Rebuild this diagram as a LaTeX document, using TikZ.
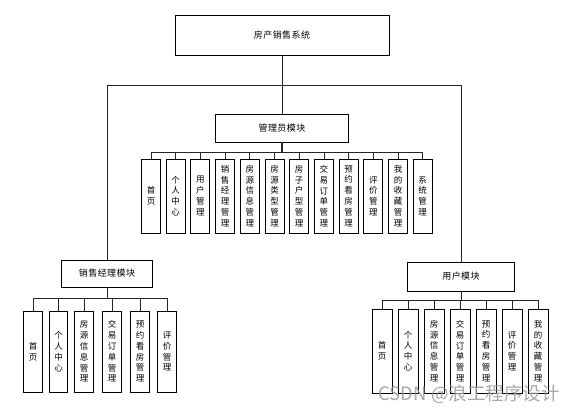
\documentclass[tikz,border=0pt]{standalone}
\usepackage{fontspec}
\newfontfamily\cjk[LetterSpace=5]{Noto Sans CJK SC}
\newfontfamily\cjkv{Noto Sans CJK SC}
\usetikzlibrary{calc}
\tikzset{
  box/.style={draw=black, line width=0.9pt, fill=white, inner sep=0pt, font=\cjk\fontsize{9}{11}\selectfont},
  vbox/.style={draw=black, line width=0.9pt, fill=white, inner sep=0pt, align=center,
     font=\cjkv\fontsize{8.5}{10.8}\selectfont},
  conn/.style={draw=black!85, line width=0.8pt},
}
\begin{document}
\begin{tikzpicture}[x=1pt,y=-1pt]
\useasboundingbox (0,0) rectangle (582,413);
% top
\node[box, minimum width=214pt, minimum height=40pt] (sys) at (282,35) {房产销售系统};
\node[box, minimum width=133pt, minimum height=28pt] (admin) at (282,128) {管理员模块};
\node[box, minimum width=91pt, minimum height=27pt] (sales) at (107,273.5) {销售经理模块};
\node[box, minimum width=107pt, minimum height=29pt] (user) at (461,276.5) {用户模块};
\coordinate (tbus) at (282,85);
\draw[conn] (sys.south) -- (tbus);
\draw[conn] (tbus) -- (admin.north);
\draw[conn] (tbus) -| (sales.north);
\draw[conn] (tbus) -| (user.north);
% admin children
\coordinate (abus) at (282,152);
\draw[conn, line width=1.3pt] (admin.south) -- (abus);
\foreach \i/\t in {0/{首\\页},1/{个\\人\\中\\心},2/{用\\户\\管\\理},3/{销\\售\\经\\理\\管\\理},
  4/{房\\源\\信\\息\\管\\理},5/{房\\源\\类\\型\\管\\理},6/{房\\子\\户\\型\\管\\理},7/{交\\易\\订\\单\\管\\理},
  8/{预\\约\\看\\房\\管\\理},9/{评\\价\\管\\理},10/{我\\的\\收\\藏\\管\\理},11/{系\\统\\管\\理}}{
  \node[vbox, minimum width=19pt, minimum height=74pt] (a\i) at ({151+24.7*\i},196) {\t};
  \draw[conn] (abus) -| (a\i.north);
}
% sales children
\coordinate (sbus) at (107,298);
\draw[conn] (sales.south) -- (sbus);
\foreach \i/\x/\t in {0/33/{首\\页},1/58.5/{个\\人\\中\\心},2/84/{房\\源\\信\\息\\管\\理},
  3/112/{交\\易\\订\\单\\管\\理},4/140/{预\\约\\看\\房\\管\\理},5/167/{评\\价\\管\\理}}{
  \node[vbox, minimum width=18.5pt, minimum height=81pt] (s\i) at (\x,351.5) {\t};
  \draw[conn] (sbus) -| (s\i.north);
}
% user children
\coordinate (ubus) at (461,300);
\draw[conn] (user.south) -- (ubus);
\foreach \i/\t in {0/{首\\页},1/{个\\人\\中\\心},2/{房\\源\\信\\息\\管\\理},
  3/{交\\易\\订\\单\\管\\理},4/{预\\约\\看\\房\\管\\理},5/{评\\价\\管\\理},6/{我\\的\\收\\藏\\管\\理}}{
  \node[vbox, minimum width=20pt, minimum height=84pt] (u\i) at ({382+26*\i},351) {\t};
  \draw[conn] (ubus) -| (u\i.north);
}
% watermark
\node[text=black!40, opacity=0.85, font=\cjkv\fontsize{18.5}{18.5}\selectfont, inner sep=0pt] (wm) at (469,394) {CSDN @浪工程序设计};
\end{tikzpicture}
\end{document}
